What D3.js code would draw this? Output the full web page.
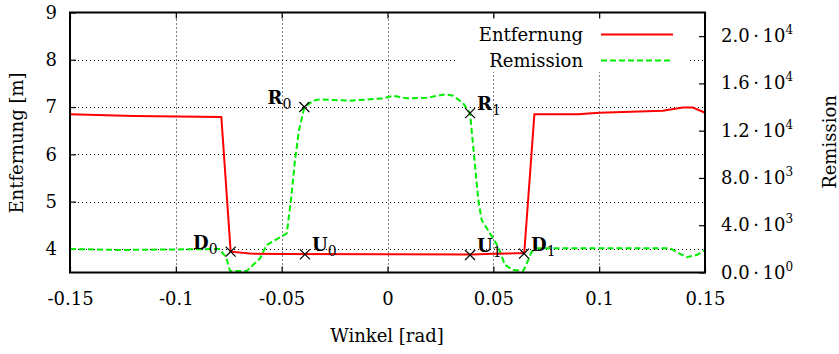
<!DOCTYPE html>
<html>
<head>
<meta charset="utf-8">
<script src="https://cdn.jsdelivr.net/npm/d3@7"></script>
<style>
	body { margin: 0; background: #fff; }
	svg, svg text, svg tspan { font-family: 'DejaVu Serif', serif !important; fill: #000; }
</style>
</head>
<body>
<svg id="chart"></svg>
<script>
// Entfernung (left axis, metres) against Winkel (rad)
const distAngle = [-0.15, -0.12, -0.0785, -0.0741, -0.065, -0.05, 0, 0.04, 0.05, 0.0646, 0.0694, 0.09, 0.10, 0.13, 0.1396, 0.1443, 0.15];
const distValue = [6.85, 6.81, 6.79, 3.94, 3.90, 3.89, 3.885, 3.88, 3.895, 3.91, 6.85, 6.85, 6.88, 6.92, 6.99, 6.99, 6.88];

// Remission (right axis)
const remAngle = [-0.15, -0.1264, -0.0791, -0.0777, -0.0763, -0.0744, -0.0665, -0.0602, -0.0571, -0.0508, -0.0476, -0.0456, -0.0437, -0.0418, -0.0393,
	-0.0351, -0.0319, -0.0177, -0.0020, 0.0027, 0.0091, 0.0185, 0.0272, 0.0311, 0.0358, 0.0390, 0.0405, 0.0429, 0.0445, 0.0484, 0.0523,
	0.0555, 0.0594, 0.0642, 0.0665, 0.0681, 0.0705, 0.1335, 0.1413, 0.1461, 0.15];
const remValue = [1990, 1904, 1990, 1600, 1337, 127, 127, 1201, 2327, 2978, 3316, 6134, 9518, 12056, 13976,
	14534, 14653, 14534, 14737, 14957, 14737, 14788, 15076, 14957, 14314, 13468, 10643, 6134, 4442, 3316, 2183,
	635, 212, 152, 1058, 1760, 2047, 2047, 1286, 1481, 1904];

// marked points: name, subscript, angle, distance
const markNames = ['D', 'U', 'U', 'D', 'R', 'R'];
const markSubs = ['0', '0', '1', '1', '0', '1'];
const markAngle = [-0.0741, -0.039, 0.039, 0.0645, -0.0393, 0.039];
const markDist = [3.94, 3.885, 3.87, 3.90, 7.0, 6.87];
const markSide = ['left', 'right', 'right', 'right', 'left', 'right'];

const xTicks = [-0.15, -0.1, -0.05, 0, 0.05, 0.1, 0.15];
const yTicks = [4, 5, 6, 7, 8, 9];
const y2Ticks = [0, 4000, 8000, 12000, 16000, 20000];
const y2Mant = ['0.0', '4.0', '8.0', '1.2', '1.6', '2.0'];
const y2Exp = ['0', '3', '3', '4', '4', '4'];

const seriesNames = ['Entfernung', 'Remission'];

const width = 839, height = 354;
const margin = { left: 70, right: 134, top: 12.5, bottom: 81.5 };
const config = {
	red: '#ff0000',
	green: '#00ee00',
	font: "'DejaVu Serif', serif",
	fontSize: 18,
	tick: 6
};

const svg = d3.select('#chart').attr('width', width).attr('height', height)
	.style('font-family', config.font);

const x = d3.scaleLinear().domain([-0.15, 0.15]).range([margin.left, width - margin.right]);
const y = d3.scaleLinear().domain([3.5, 9]).range([height - margin.bottom, margin.top]);
const y2 = d3.scaleLinear().domain([0, 22000]).range([height - margin.bottom, margin.top]);

const x0 = x.range()[0], x1 = x.range()[1], yb = y.range()[0], yt = y.range()[1];

function addText(parent) {
	return parent.append('text')
		.style('font-family', config.font)
		.attr('font-size', config.fontSize);
}

// grid
const grid = svg.append('g').attr('stroke', '#000').attr('stroke-width', 1).attr('stroke-dasharray', '1,3');
grid.selectAll('line.gx')
	.data(xTicks.slice(1, -1))
	.enter()
	.append('line')
	.attr('x1', d => Math.round(x(d)) + 0.5).attr('x2', d => Math.round(x(d)) + 0.5)
	.attr('y1', yb).attr('y2', yt);
grid.selectAll('line.gy')
	.data(yTicks.slice(0, -1))
	.enter()
	.append('line')
	.attr('x1', x0).attr('x2', x1)
	.attr('y1', d => Math.round(y(d)) + 0.5).attr('y2', d => Math.round(y(d)) + 0.5);

// axes with inward ticks
const fmtX = d => d === 0 ? '0' : String(d);
const xAxisB = d3.axisBottom(x).tickValues(xTicks).tickSizeInner(-config.tick).tickSizeOuter(0).tickPadding(20).tickFormat(fmtX);
const xAxisT = d3.axisTop(x).tickValues(xTicks).tickSizeInner(-config.tick).tickSizeOuter(0).tickFormat('');
const yAxisL = d3.axisLeft(y).tickValues(yTicks).tickSizeInner(-config.tick).tickSizeOuter(0).tickPadding(13).tickFormat(d => String(d));
const yAxisR = d3.axisRight(y2).tickValues(y2Ticks).tickSizeInner(-config.tick).tickSizeOuter(0).tickFormat('');

const axes = [
	svg.append('g').attr('transform', `translate(0,${yb})`).call(xAxisB),
	svg.append('g').attr('transform', `translate(0,${yt})`).call(xAxisT),
	svg.append('g').attr('transform', `translate(${x0},0)`).call(yAxisL),
	svg.append('g').attr('transform', `translate(${x1},0)`).call(yAxisR)
];
for (const a of axes) {
	a.attr('font-family', null);
	a.select('.domain').remove();
	a.selectAll('.tick line').attr('stroke', '#000').attr('stroke-width', 1.2);
	a.selectAll('.tick text').attr('font-size', config.fontSize).style('font-family', config.font);
}

// right tick labels: mantissa · 10^exp
const y2Labels = svg.append('g');
y2Ticks.forEach((t, i) => {
	const txt = addText(y2Labels)
		.attr('x', x1 + 16)
		.attr('y', y2(t) + 6);
	txt.append('tspan').text(y2Mant[i] + '\u2009\u00b7\u200910');
	txt.append('tspan').attr('font-size', 12).attr('dy', -8).text(y2Exp[i]);
});

// lines
const distLine = d3.line().x(d => x(d[0])).y(d => y(d[1]));
const remLine = d3.line().x(d => x(d[0])).y(d => y2(d[1]));

svg.append('path')
	.datum(d3.zip(remAngle, remValue))
	.attr('d', remLine)
	.attr('fill', 'none')
	.attr('stroke', config.green)
	.attr('stroke-width', 2)
	.attr('stroke-dasharray', '6,3');

svg.append('path')
	.datum(d3.zip(distAngle, distValue))
	.attr('d', distLine)
	.attr('fill', 'none')
	.attr('stroke', config.red)
	.attr('stroke-width', 2);

// markers
const marks = svg.append('g');
markAngle.forEach((a, i) => {
	const cx = x(a), cy = y(markDist[i]), s = 5;
	marks.append('path')
		.attr('d', `M${cx - s},${cy - s}L${cx + s},${cy + s}M${cx - s},${cy + s}L${cx + s},${cy - s}`)
		.attr('stroke', '#000')
		.attr('stroke-width', 1.2);
	const lbl = addText(marks)
		.attr('x', markSide[i] === 'left' ? cx - 13 : cx + 7)
		.attr('y', cy - 3)
		.attr('text-anchor', markSide[i] === 'left' ? 'end' : 'start');
	lbl.append('tspan').attr('font-weight', 'bold').text(markNames[i]);
	lbl.append('tspan').attr('font-size', 14).attr('dy', 5).text(markSubs[i]);
});

// legend with opaque box
const legend = svg.append('g');
legend.append('rect')
	.attr('x', 456).attr('y', 19).attr('width', 232).attr('height', 53)
	.attr('fill', '#fff');
const legendColors = [config.red, config.green];
seriesNames.forEach((name, i) => {
	const ly = 34.5 + i * 26;
	addText(legend)
		.attr('x', 583).attr('y', ly + 6)
		.attr('text-anchor', 'end')
		.text(name);
	legend.append('line')
		.attr('x1', 601).attr('x2', 673)
		.attr('y1', ly).attr('y2', ly)
		.attr('stroke', legendColors[i])
		.attr('stroke-width', 2)
		.attr('stroke-dasharray', i === 1 ? '6,3' : null);
});

// frame
svg.append('rect')
	.attr('x', x0).attr('y', yt)
	.attr('width', x1 - x0).attr('height', yb - yt)
	.attr('fill', 'none')
	.attr('stroke', '#000')
	.attr('stroke-width', 2);

// axis titles
addText(svg)
	.attr('transform', `translate(23,143) rotate(-90)`)
	.attr('text-anchor', 'middle')
	.text('Entfernung [m]');
addText(svg)
	.attr('transform', `translate(836,142) rotate(-90)`)
	.attr('text-anchor', 'middle')
	.text('Remission');
addText(svg)
	.attr('x', 387).attr('y', 342)
	.attr('text-anchor', 'middle')
	.text('Winkel [rad]');
</script>
</body>
</html>
